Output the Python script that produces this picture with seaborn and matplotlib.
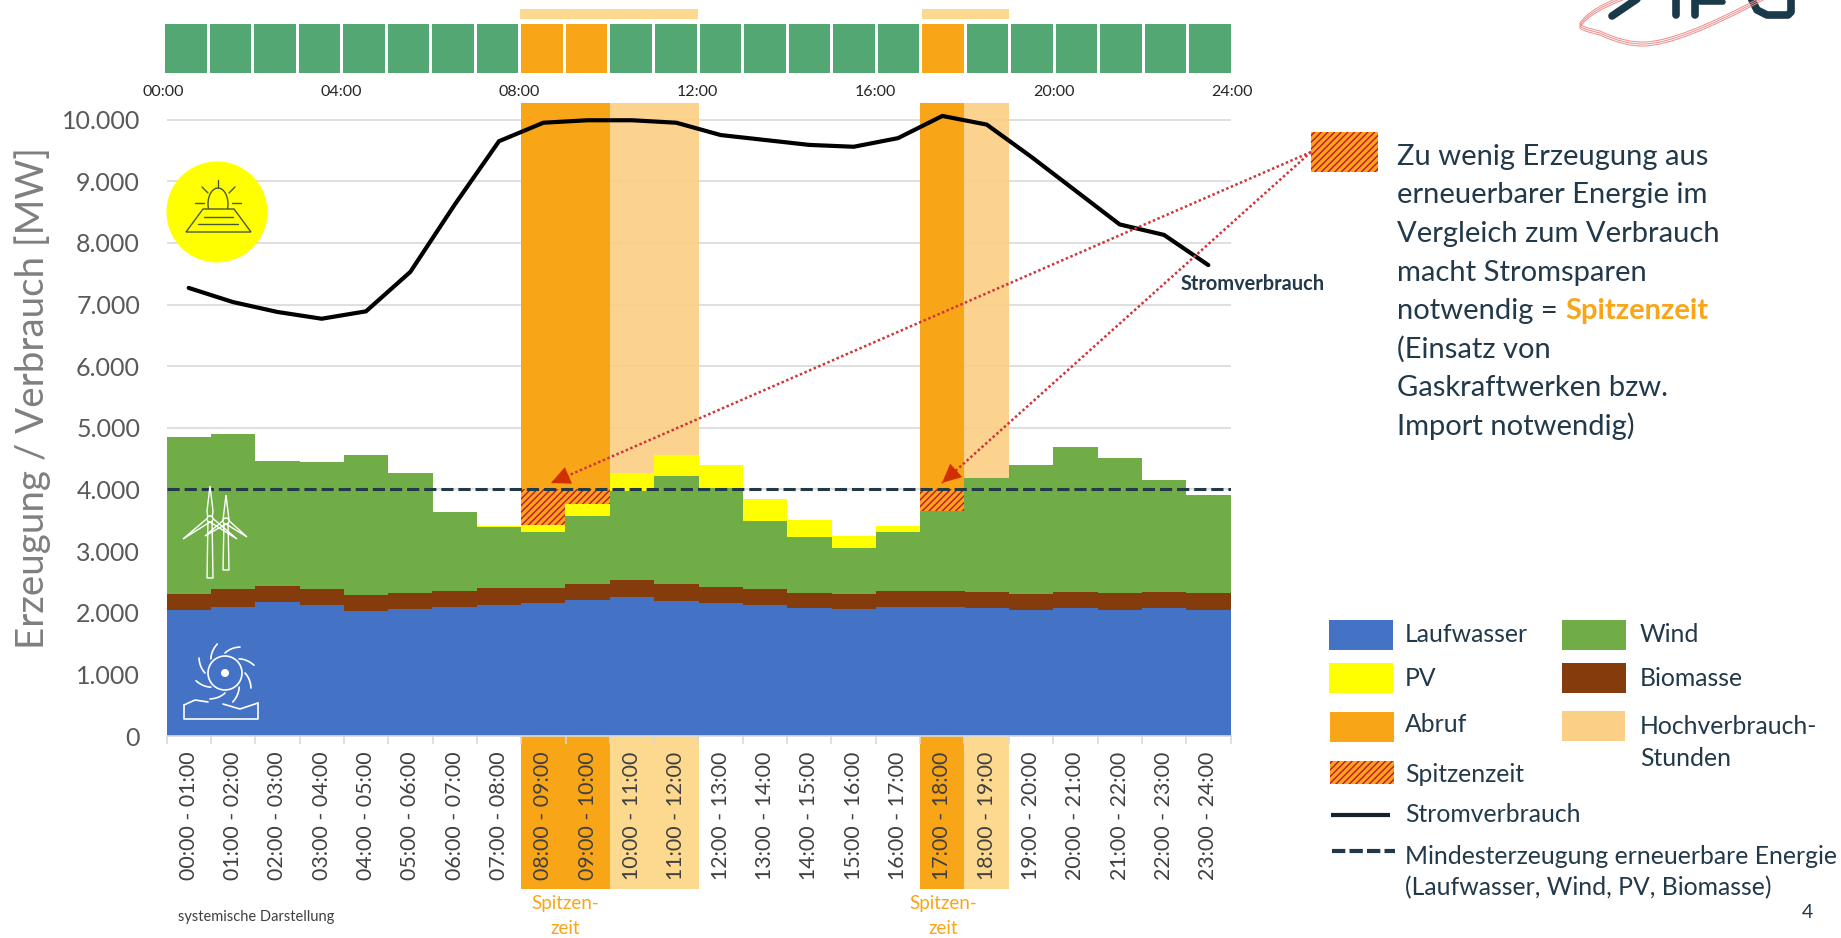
import numpy as np
import pandas as pd
import matplotlib
matplotlib.use('Agg')
import matplotlib.pyplot as plt
from matplotlib.colors import ListedColormap
from matplotlib.patches import Rectangle, Circle, Ellipse, Polygon, PathPatch
from matplotlib.path import Path
import seaborn as sns

# Values (MW per hour)
hours = [f'{h:02d}:00 - {h + 1:02d}:00' for h in range(24)]
laufwasser = [2040, 2100, 2170, 2120, 2030, 2060, 2090, 2120, 2150, 2200, 2250, 2190,
              2150, 2120, 2080, 2060, 2100, 2100, 2080, 2040, 2070, 2040, 2070, 2050]
biomasse = [270, 280, 270, 270, 260, 260, 270, 278, 258, 273, 277, 278,
            270, 267, 248, 251, 249, 255, 258, 271, 270, 280, 270, 270]
wind = [2547, 2515, 2017, 2048, 2271, 1947, 1278, 990, 904, 1099, 1450, 1748,
        1596, 1103, 893, 747, 953, 1293, 1850, 2089, 2346, 2194, 1812, 1585]
pv = [0, 0, 0, 0, 0, 0, 0, 27, 108, 189, 283, 341,
      379, 348, 281, 184, 103, 0, 0, 0, 0, 0, 0, 0]
stromverbrauch = [7270, 7040, 6880, 6770, 6890, 7530, 8620, 9650, 9950, 9990, 9990, 9950,
                  9750, 9670, 9590, 9560, 9700, 10060, 9920, 9400, 8850, 8300, 8130, 7640]
mindesterzeugung = 4000
abruf_hours = [8, 9, 17]
hochverbrauch_hours = [10, 11, 18]
y_ticks = [0, 1000, 2000, 3000, 4000, 5000, 6000, 7000, 8000, 9000, 10000]
y_labels = ['0', '1.000', '2.000', '3.000', '4.000', '5.000', '6.000', '7.000', '8.000', '9.000', '10.000']
strip_status = [0] * 8 + [1, 1] + [0] * 7 + [1] + [0] * 6
strip_ticks = ['00:00', '04:00', '08:00', '12:00', '16:00', '20:00', '24:00']

BLUE = '#4472C4'
BROWN = '#843C0C'
GREEN = '#70AD47'
YELLOW = '#FFFF00'
ORANGE = '#F9A518'
LIGHT = '#FBCF85'
LIGHTER = '#FDD98F'
STRIP_GREEN = '#53A773'
DARK = '#22394A'
HATCH_RED = '#C8102E'
W, H = 1841, 938
Y_TOP = 10270
BAR_W = 1.012  # slight overlap so no white seams appear between bars

sns.set_theme(style='white')
plt.rcParams['font.family'] = ['Lato', 'DejaVu Sans']
plt.rcParams['hatch.linewidth'] = 1.0

fig = plt.figure(figsize=(W / 100, H / 100), dpi=100)


def px_axes(x0, y0, x1, y1):
    return fig.add_axes([x0 / W, 1 - y1 / H, (x1 - x0) / W, (y1 - y0) / H])


# Build cumulative tops, drawn largest first so each bar covers the next one
df = pd.DataFrame({'hour': hours})
df['lauf'] = np.array(laufwasser)
df['bio'] = df['lauf'] + np.array(biomasse)
df['wind'] = df['bio'] + np.array(wind)
df['pv'] = df['wind'] + np.array(pv)
df['abruf'] = [Y_TOP if i in abruf_hours else np.nan for i in range(24)]
df['hoch'] = [Y_TOP if i in hochverbrauch_hours else np.nan for i in range(24)]
df['spitze'] = [mindesterzeugung if i in abruf_hours else np.nan for i in range(24)]

ax = px_axes(166.5, 103, 1230.5, 736)
ax.set_axisbelow(True)
sns.barplot(data=df, x='hour', y='hoch', order=hours, color=LIGHT, width=1, saturation=1,
            alpha=0.92, linewidth=0, errorbar=None, ax=ax)
sns.barplot(data=df, x='hour', y='abruf', order=hours, color=ORANGE, width=1, saturation=1,
            linewidth=0, errorbar=None, ax=ax)
sns.barplot(data=df, x='hour', y='spitze', order=hours, color=ORANGE, width=1, saturation=1,
            edgecolor=HATCH_RED, hatch='/////', linewidth=0, errorbar=None, ax=ax)
for col, colour in [('pv', YELLOW), ('wind', GREEN), ('bio', BROWN), ('lauf', BLUE)]:
    sns.barplot(data=df, x='hour', y=col, order=hours, color=colour, width=BAR_W, saturation=1,
                linewidth=0, errorbar=None, ax=ax)

ax.axhline(mindesterzeugung, color=DARK, lw=2.2, dashes=(4, 1.6), zorder=4)
sns.lineplot(x=np.arange(24), y=stromverbrauch, color='black', lw=3, ax=ax, zorder=5,
             solid_joinstyle='miter')

ax.set_xlim(-0.5, 23.5)
ax.set_ylim(0, Y_TOP)
ax.set_yticks(y_ticks, y_labels)
ax.set_xticks(np.arange(24), hours)
ax.set_xticks(np.arange(-0.5, 24), minor=True)
ax.set_xlabel('')
ax.set_ylabel('')
ax.grid(axis='y', color='#D9D9D9', lw=1.2)
ax.grid(axis='x', visible=False)
ax.tick_params(axis='y', length=0, pad=19, labelsize=18, labelcolor='#595959')
ax.tick_params(axis='x', which='major', length=0, pad=11, labelsize=15.3, labelcolor='#404040', rotation=90)
ax.tick_params(axis='x', which='minor', length=6, width=1.2, color='#D9D9D9', bottom=True)
sns.despine(ax=ax, left=True, top=True, right=True)
ax.spines['bottom'].set_color('#D9D9D9')
ax.spines['bottom'].set_linewidth(1.2)

# Coloured blocks behind the hour labels
for i in abruf_hours + hochverbrauch_hours:
    c = ORANGE if i in abruf_hours else LIGHTER
    ax.add_patch(Rectangle((i - 0.5, -153 / 633), 1, 153 / 633, transform=ax.get_xaxis_transform(),
                           color=c, lw=0, clip_on=False, zorder=0.1))

# Status strip above the chart
strip = px_axes(163, 22, 1232, 74)
sns.heatmap([strip_status], cmap=ListedColormap([STRIP_GREEN, ORANGE]), vmin=0, vmax=1, cbar=False,
            linewidths=2, linecolor='white', xticklabels=False, yticklabels=False, ax=strip)
strip.set_xticks(np.arange(0, 25, 4), strip_ticks)
strip.tick_params(axis='x', length=0, pad=8, labelsize=11.5, labelcolor='#262626', rotation=0)
strip.tick_params(axis='y', length=0)

# Overlay in image pixels for text, legend, arrows and icons
ov = fig.add_axes([0, 0, 1, 1], zorder=10)
ov.set_xlim(0, W)
ov.set_ylim(H, 0)
ov.axis('off')
ov.patch.set_alpha(0)

ov.add_patch(Rectangle((520, 9), 178, 10, color=LIGHTER, lw=0))
ov.add_patch(Rectangle((922, 9), 87, 10, color=LIGHTER, lw=0))

ov.text(33, 398, 'Erzeugung / Verbrauch [MW]', rotation=90, ha='center', va='center', fontsize=27.7, color='#7F7F7F')
ov.text(1181, 284, 'Stromverbrauch', ha='left', va='center', fontsize=14.4, fontweight='bold', color=DARK)
ov.text(178, 917, 'systemische Darstellung', ha='left', va='center', fontsize=10.5, color='#404040')
for x in [565, 943]:
    ov.text(x, 903, 'Spitzen-', ha='center', va='center', fontsize=13.5, color=ORANGE)
    ov.text(x, 929, 'zeit', ha='center', va='center', fontsize=13.5, color=ORANGE)

# Explanation text on the right
side_lines = ['Zu wenig Erzeugung aus', 'erneuerbarer Energie im', 'Vergleich zum Verbrauch',
              'macht Stromsparen', 'notwendig = ', '(Einsatz von', 'Gaskraftwerken bzw.', 'Import notwendig)']
for i, line in enumerate(side_lines):
    ov.text(1397, 157 + i * 38.5, line, ha='left', va='center', fontsize=21, color=DARK)
ov.text(1565, 157 + 4 * 38.5, 'Spitzenzeit', ha='left', va='center', fontsize=21, fontweight='bold', color=ORANGE)

ov.add_patch(Rectangle((1311, 132), 67, 40, facecolor=ORANGE, edgecolor=HATCH_RED, hatch='/////', lw=0))
for tip in [(551, 483), (942, 483)]:
    ov.plot([1311, tip[0]], [152, tip[1]], color='#D13438', lw=1.8, dashes=(1, 1))
    d = np.array([1311 - tip[0], 152 - tip[1]], dtype=float)
    d = d / np.linalg.norm(d)
    n = np.array([-d[1], d[0]])
    base = np.array(tip) + d * 19
    ov.add_patch(Polygon([tip, base + n * 9, base - n * 9], color='#D03000', lw=0, zorder=6))

# Legend
leg_font = 17.8
swatches = [(1329, 620, 64, 30, BLUE), (1329, 663, 64, 30, YELLOW), (1330, 712, 64, 30, ORANGE),
            (1562, 620, 64, 30, GREEN), (1562, 663, 64, 30, BROWN), (1562, 711, 63, 30, LIGHT)]
for x, y, w, h, c in swatches:
    ov.add_patch(Rectangle((x, y), w, h, color=c, lw=0))
ov.add_patch(Rectangle((1330, 761), 64, 23, facecolor=ORANGE, edgecolor=HATCH_RED, hatch='/////', lw=0))
ov.plot([1331, 1390], [815, 815], color='#14232E', lw=3, solid_capstyle='butt')
ov.plot([1332, 1395], [851, 851], color=DARK, lw=3, dashes=(3.2, 1))
leg_text = [(1405, 634, 'Laufwasser'), (1405, 679, 'PV'), (1405, 725, 'Abruf'), (1405, 774, 'Spitzenzeit'),
            (1405, 815, 'Stromverbrauch'), (1405, 857, 'Mindesterzeugung erneuerbare Energie'),
            (1405, 888, '(Laufwasser, Wind, PV, Biomasse)'), (1640, 634, 'Wind'), (1640, 679, 'Biomasse'),
            (1640, 726, 'Hochverbrauch-'), (1640, 758, 'Stunden')]
for x, y, s in leg_text:
    ov.text(x, y, s, ha='left', va='center', fontsize=leg_font, color=DARK)
ov.text(1807, 913, '4', ha='center', va='center', fontsize=14, color=DARK)

# Sun / PV icon
ov.add_patch(Circle((217, 212), 50.5, color=YELLOW, lw=0))
ic = '#4A5A3A'
ov.add_patch(Ellipse((218, 204), 20, 32, fill=False, edgecolor=ic, lw=1))
ov.add_patch(Polygon([(203, 209), (234, 209), (251, 232), (186, 232)], facecolor=YELLOW, edgecolor=ic, lw=1, zorder=3))
for (xa, ya), (xb, yb) in [((204, 217), (233, 217)), ((198, 224), (238, 224)), ((218, 180), (218, 188)),
                           ((202, 187), (208, 193)), ((235, 187), (229, 193)), ((195, 203), (204, 203)),
                           ((232, 203), (241, 203))]:
    ov.plot([xa, xb], [ya, yb], color=ic, lw=1, zorder=4)

# Wind turbines
for x, top, bot, hub, tips in [(210, 486, 578, 519, [(183, 539), (237, 539)]),
                               (226, 495, 570, 521, [(205, 536), (247, 537)])]:
    ov.add_patch(Polygon([(x - 3, bot), (x + 3, bot), (x + 2, hub), (x + 3, top + 25), (x, top), (x - 3, top + 25), (x - 2, hub)],
                         fill=False, edgecolor='white', lw=1))
    for tx, ty in tips:
        ov.add_patch(Polygon([(x, hub - 3), (tx, ty), (x, hub + 3)], fill=False, edgecolor='white', lw=1))
    ov.add_patch(Circle((x, hub), 3, facecolor=GREEN, edgecolor='white', lw=1))

# Water wheel
ov.add_patch(Circle((225, 673), 17, fill=False, edgecolor='white', lw=1.2))
ov.add_patch(Circle((225, 673), 4, color='white', lw=0))
for a in np.arange(0, 360, 45):
    t = np.radians(a + np.linspace(0, 30, 8))
    r = np.linspace(20, 30, 8)
    ov.plot(225 + r * np.cos(t), 673 + r * np.sin(t), color='white', lw=1.2)
ov.plot([184, 184, 258, 258], [705, 719, 719, 703], color='white', lw=1.2)
ov.plot([184, 195, 208], [705, 700, 702], color='white', lw=1.2)
ov.plot([223, 240, 258], [704, 709, 703], color='white', lw=1.2)

# Logo, cut off at the top edge
ov.plot([1612, 1637], [16, -1], color='#1A3A4A', lw=5.5, solid_capstyle='round')
for x in [1676, 1695]:
    ov.plot([x, x], [-2, 15], color='#1A3A4A', lw=5.5, solid_capstyle='round')
ov.plot([1700, 1723], [2, 2], color='#1A3A4A', lw=4)
ov.plot([1751, 1757, 1767, 1788, 1791, 1791], [-2, 10, 15, 15, 12, -2], color='#1A3A4A', lw=5.5, solid_joinstyle='round')
for d in [0, 2, 4]:
    verts = [(1625, -1 - d), (1590, 12 - d), (1580, 27 - d), (1578, 30 - d), (1600, 35 - d),
             (1625, 47 - d), (1645, 46 - d), (1680, 45 - d), (1765, -1 - d)]
    codes = [Path.MOVETO] + [Path.CURVE3] * 8
    ov.add_patch(PathPatch(Path(verts, codes), fill=False, edgecolor='#EE8A8A', lw=0.7, zorder=7))

fig.savefig('out.png', dpi=100)
